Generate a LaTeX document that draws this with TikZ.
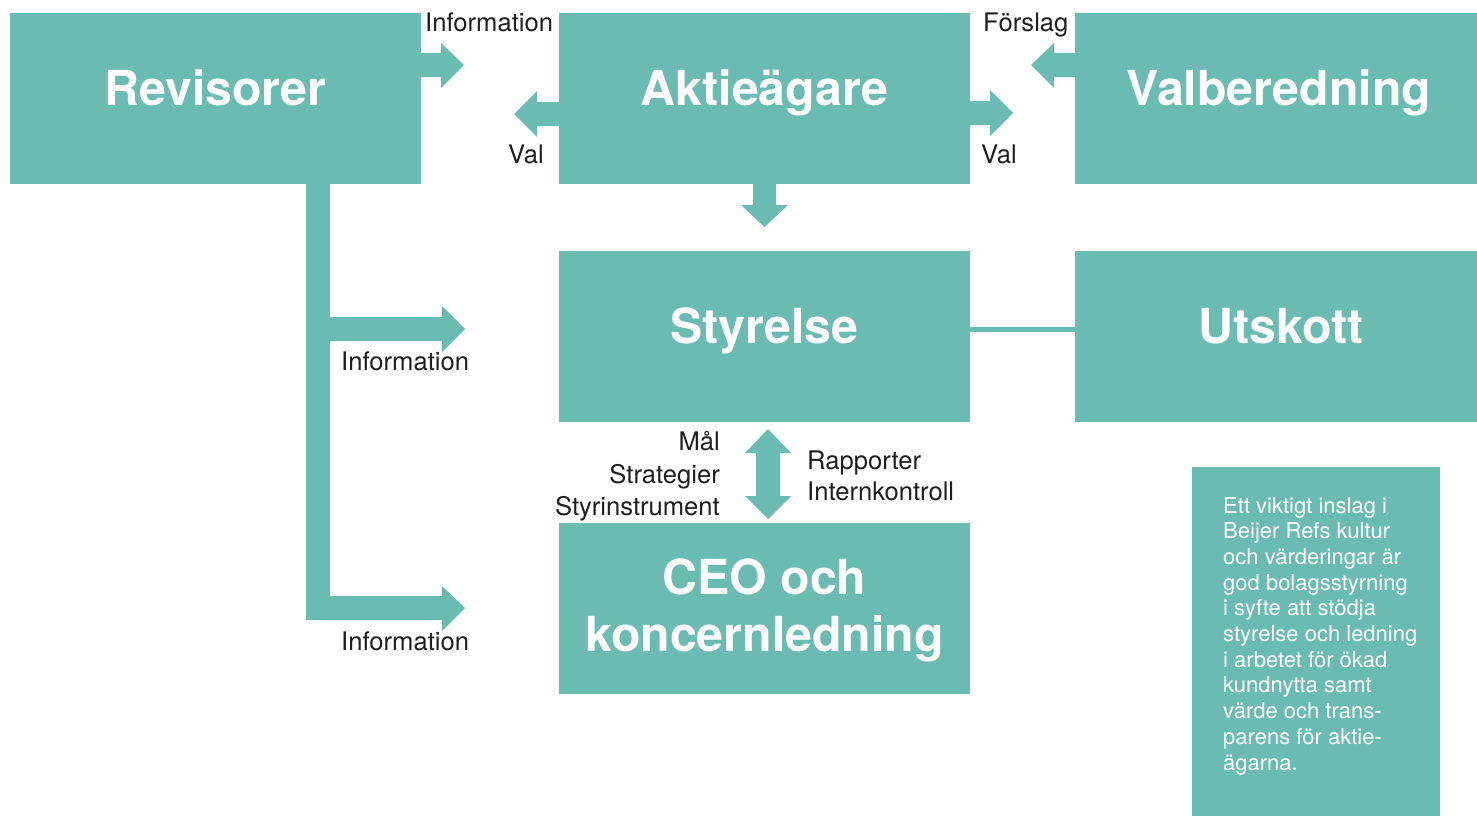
\documentclass[tikz,border=0pt]{standalone}
\usepackage{fontspec}
\setmainfont{TeX Gyre Heros}
\definecolor{tealc}{RGB}{106,187,177}
\definecolor{ink}{RGB}{30,30,30}
\begin{document}
\begin{tikzpicture}[x=1pt,y=-1pt,
  box/.style={fill=tealc, draw=none, inner sep=0pt, anchor=north west, minimum width=#1},
  box/.default=411pt,
  title/.style={text=white, inner sep=0pt, anchor=base, font=\fontsize{48.3}{57}\selectfont\bfseries},
  lbl/.style={text=ink, inner sep=0pt, font=\fontsize{25.6}{30}\selectfont},
  blockarrow/.style={fill=tealc, draw=none}]
\useasboundingbox (0,0) rectangle (1477,816);
% boxes
\node[box, minimum height=171pt] (rev) at (10,13) {};
\node[box, minimum height=171pt] (akt) at (559,13) {};
\node[box=402pt, minimum height=171pt] (val) at (1075,13) {};
\node[box, minimum height=171pt] (sty) at (559,251) {};
\node[box=402pt, minimum height=171pt] (uts) at (1075,251) {};
\node[box, minimum height=171pt] (ceo) at (559,523) {};
\node[box=248pt, minimum height=349pt] (note) at (1192,467) {};
% titles
\node[title] (trev) at (215.5,105) {Revisorer};
\node[title] (takt) at (764.5,105) {Aktieägare};
\node[title] (tval) at (1279,105) {Valberedning};
\node[title] (tsty) at (764.5,343) {Styrelse};
\node[title] (tuts) at (1281,343) {Utskott};
\node[title] (tceo1) at (764.5,594) {CEO och};
\node[title] (tceo2) at (764.5,651) {koncernledning};
% block arrows
\path[blockarrow] (421,53) -- (441,53) -- (441,43) -- (464,65) -- (441,88) -- (441,77) -- (421,77) -- cycle;
\path[blockarrow] (559,102) -- (537,102) -- (537,91) -- (514,114) -- (537,137) -- (537,126) -- (559,126) -- cycle;
\path[blockarrow] (1075,53) -- (1054,53) -- (1054,43) -- (1031,65) -- (1054,88) -- (1054,77) -- (1075,77) -- cycle;
\path[blockarrow] (970,101) -- (990,101) -- (990,90) -- (1013,113) -- (990,136) -- (990,125) -- (970,125) -- cycle;
\path[blockarrow] (753,184) -- (753,205) -- (741,205) -- (764.5,227) -- (788,205) -- (776,205) -- (776,184) -- cycle;
\path[blockarrow] (306,184) -- (330,184) -- (330,317) -- (442,317) -- (442,306) -- (465,329) -- (442,352) -- (442,341) -- (330,341) -- (330,596) -- (442,596) -- (442,586) -- (465,608) -- (442,631) -- (442,620) -- (306,620) -- cycle;
\path[blockarrow] (768,429) -- (791,453) -- (780,453) -- (780,496) -- (791,496) -- (768,519) -- (745,496) -- (756,496) -- (756,453) -- (745,453) -- cycle;
% Styrelse - Utskott
\draw[tealc, line width=5pt] ([yshift=7pt]sty.east) -- ([yshift=7pt]uts.west);
% labels
\node[lbl, anchor=base west] (l1) at (425,32) {Information};
\node[lbl, anchor=base west] (l2) at (508,163) {Val};
\node[lbl, anchor=base west] (l3) at (983,32) {Förslag};
\node[lbl, anchor=base west] (l4) at (981,163) {Val};
\node[lbl, anchor=base west] (l5) at (341,370) {Information};
\node[lbl, anchor=base west] (l6) at (341,650) {Information};
\node[lbl, anchor=base east] (m1) at (720,450) {Mål};
\node[lbl, anchor=base east] (m2) at (720,483) {Strategier};
\node[lbl, anchor=base east] (m3) at (720,515) {Styrinstrument};
\node[lbl, anchor=base west] (r1) at (807,469) {Rapporter};
\node[lbl, anchor=base west] (r2) at (807,500) {Internkontroll};
% note text
\node[text=white, inner sep=0pt, anchor=base west] (notetext) at (1223,513)
  {\parbox[t]{215pt}{\fontsize{22}{25.7}\selectfont\raggedright
  Ett viktigt inslag i\\
  Beijer Refs kultur\\
  och värderingar är\\
  god bolagsstyrning\\
  i syfte att stödja\\
  styrelse och ledning\\
  i arbetet för ökad\\
  kundnytta samt\\
  värde och trans-\\
  parens för aktie-\\
  ägarna.}};
\end{tikzpicture}
\end{document}
